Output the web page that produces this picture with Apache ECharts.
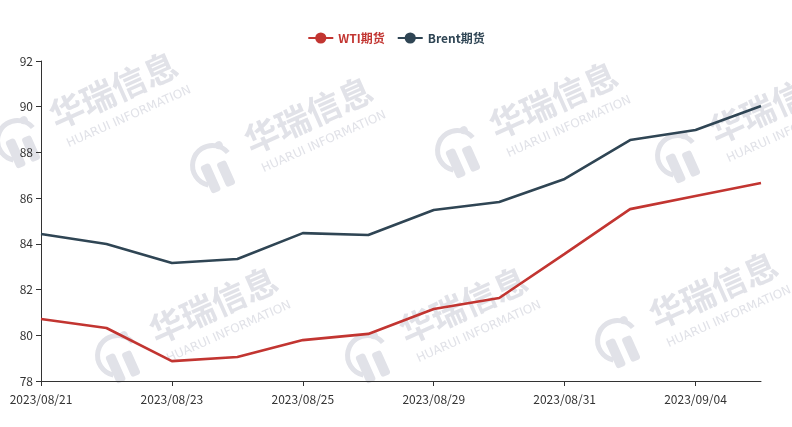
<!DOCTYPE html>
<html><head><meta charset="utf-8">
<script src="https://cdn.jsdelivr.net/npm/echarts@6/dist/echarts.min.js"></script>
<style>html,body{margin:0;padding:0;background:#fff}#c{width:792px;height:427px}</style>
</head><body><div id="c"></div>
<script>
var categories = ['2023/08/21','2023/08/22','2023/08/23','2023/08/24','2023/08/25','2023/08/28','2023/08/29','2023/08/30','2023/08/31','2023/09/01','2023/09/04','2023/09/05'];
var wti = [80.71, 80.32, 78.87, 79.05, 79.79, 80.06, 81.15, 81.63, 83.56, 85.52, 86.09, 86.66];
var brent = [84.43, 83.99, 83.16, 83.34, 84.47, 84.39, 85.48, 85.83, 86.84, 88.54, 88.98, 90.03];
var yTicks = [78, 80, 82, 84, 86, 88, 90, 92];

var wmColor = '#e1e2e8';
function mark(x, y) {
  return {
    type: 'group', x: x, y: y, rotation: 0.42, silent: true, z: -10,
    children: [
      {type: 'arc', shape: {cx: -40, cy: 10, r: 20, startAngle: 2.2, endAngle: 6.0}, style: {stroke: wmColor, lineWidth: 5, fill: null}},
      {type: 'circle', shape: {cx: -26, cy: -6, r: 4}, style: {fill: wmColor}},
      {type: 'rect', shape: {x: -52, y: 6, width: 10, height: 30, r: 3}, style: {fill: wmColor}},
      {type: 'rect', shape: {x: -36, y: 10, width: 10, height: 26, r: 3}, style: {fill: wmColor}},
      {type: 'text', x: 0, y: -14, style: {text: '华瑞信息', font: 'bold 34px "Noto Sans CJK SC"', fill: wmColor}},
      {type: 'text', x: 4, y: 28, style: {text: 'HUARUI INFORMATION', font: '12px "DejaVu Sans"', fill: wmColor}}
    ]
  };
}
var graphics = [mark(50,115), mark(245,140), mark(490,125), mark(710,130), mark(150,330), mark(400,330), mark(650,315)];

var chart = echarts.init(document.getElementById('c'));
chart.setOption({
  animation: false,
  color: ['#c23531', '#2f4554'],
  textStyle: {fontFamily: '"Noto Sans CJK SC", sans-serif'},
  graphic: graphics,
  legend: {
    top: 27, left: 'center', itemWidth: 25, itemHeight: 14, itemGap: 12,
    textStyle: {fontWeight: 'bold', fontSize: 12},
    data: [
      {name: 'WTI期货', textStyle: {color: '#c23531'}},
      {name: 'Brent期货', textStyle: {color: '#2f4554'}}
    ]
  },
  grid: {left: 41, right: 31, top: 61, bottom: 46},
  xAxis: {
    type: 'category', data: categories, boundaryGap: false,
    axisLine: {lineStyle: {color: '#333'}},
    axisTick: {alignWithLabel: true, interval: 1},
    axisLabel: {interval: 1, color: '#333', fontSize: 12, margin: 12}
  },
  yAxis: {
    type: 'value', min: yTicks[0], max: yTicks[yTicks.length-1], interval: 2,
    axisLine: {show: true, lineStyle: {color: '#333'}},
    axisTick: {show: true},
    splitLine: {show: false},
    axisLabel: {color: '#333', fontSize: 12}
  },
  series: [
    {name: 'WTI期货', type: 'line', data: wti, symbol: 'circle', symbolSize: 8, showSymbol: false, lineStyle: {width: 2.6}},
    {name: 'Brent期货', type: 'line', data: brent, symbol: 'circle', symbolSize: 8, showSymbol: false, lineStyle: {width: 2.6}}
  ]
});
</script></body></html>
